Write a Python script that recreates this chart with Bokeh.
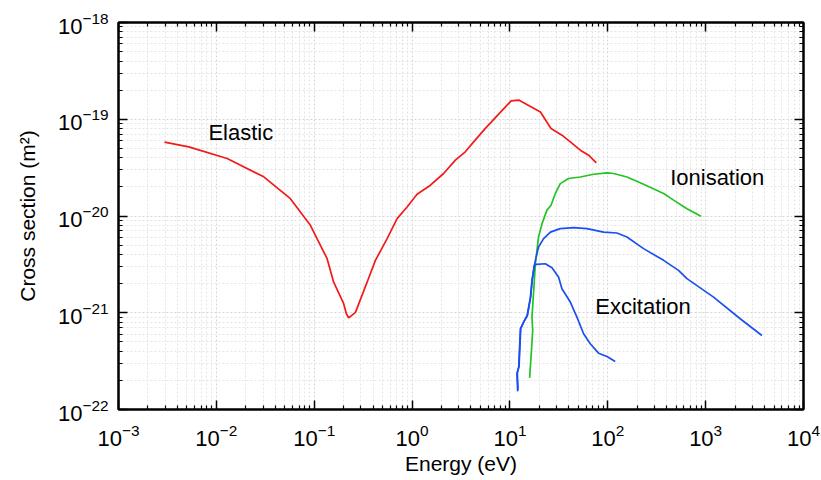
from bokeh.plotting import figure
from bokeh.models import LogAxis, FixedTicker, ColumnDataSource
from bokeh.core.properties import value
from bokeh.embed import file_html
from bokeh.resources import INLINE

# ---- data (energy in eV, cross section in m^2) ----
elastic_e = [2.95e-3, 5.22e-3, 1.29e-2, 3.05e-2, 5.71e-2, 9.14e-2, 0.1355, 0.158, 0.200, 0.213,
             0.225, 0.264, 0.347, 0.422, 0.556, 0.703, 0.889, 1.125, 1.54, 2.10, 2.77, 3.50,
             4.26, 5.61, 7.67, 10.3, 12.3, 20.5, 26.3, 34.0, 41.4, 52.4, 63.7, 76.4]
elastic_s = [5.80e-20, 5.18e-20, 3.93e-20, 2.54e-20, 1.51e-20, 8.02e-21, 3.62e-21, 2.07e-21, 1.24e-21, 9.77e-22,
             8.87e-22, 1.01e-21, 2.07e-21, 3.48e-21, 5.83e-21, 9.40e-21, 1.24e-20, 1.68e-20, 2.08e-20, 2.75e-20, 3.78e-20, 4.61e-20,
             5.83e-20, 8.04e-20, 1.13e-19, 1.55e-19, 1.58e-19, 1.19e-19, 8.04e-20, 6.84e-20, 5.83e-20, 4.79e-20, 4.25e-20, 3.54e-20]

ion_e = [15.9, 16.6, 17.1, 16.8, 17.5, 18.2, 19.6, 21.3, 23.9, 26.3, 29.1, 32.7, 39.8, 52.4, 71.6,
         98.2, 115, 157, 232, 372, 470, 644, 895]
ion_s = [2.12e-22, 4.07e-22, 6.56e-22, 9.0e-22, 1.70e-21, 3.21e-21, 6.07e-21, 8.34e-21, 1.15e-20, 1.29e-20,
         1.71e-20, 2.16e-20, 2.44e-20, 2.53e-20, 2.70e-20, 2.79e-20, 2.75e-20, 2.53e-20, 2.13e-20, 1.71e-20,
         1.46e-20, 1.19e-20, 9.93e-21]

exc_tot_e = [12.0, 11.8, 12.3, 12.5, 12.8, 13.8, 15.0, 16.2, 16.8, 18.2, 19.6, 22.1, 25.9, 32.7, 44.8,
             61.4, 90.6, 124, 157, 232, 372, 528, 644, 1205, 2255, 3758]
exc_tot_s = [1.54e-22, 2.34e-22, 2.74e-22, 4.07e-22, 6.83e-22, 8.0e-22, 9.37e-22, 1.45e-21, 2.16e-21, 3.48e-21,
             4.78e-21, 5.83e-21, 6.82e-21, 7.41e-21, 7.59e-21, 7.41e-21, 6.82e-21, 6.67e-21, 6.07e-21, 4.60e-21,
             3.48e-21, 2.74e-21, 2.25e-21, 1.45e-21, 8.67e-22, 5.82e-22]

exc_e = [12.1, 11.9, 12.4, 12.6, 12.9, 13.9, 15.1, 16.3, 16.9, 17.7, 18.6, 23.0, 26.9, 31.4, 34.0, 41.4,
         48.4, 56.6, 66.2, 80.5, 98.2, 119]
exc_s = [1.60e-22, 2.40e-22, 2.80e-22, 4.10e-22, 6.90e-22, 8.1e-22, 9.4e-22, 1.46e-21, 2.17e-21, 3.09e-21,
         3.16e-21, 3.21e-21, 2.92e-21, 2.34e-21, 1.77e-21, 1.29e-21, 9.0e-22, 6.07e-22, 4.78e-22, 3.82e-22,
         3.53e-22, 3.13e-22]

label_text = ["Elastic", "Ionisation", "Excitation"]
label_e = [8.3e-3, 434, 74.5]
label_s = [7.35e-20, 2.52e-20, 1.16e-21]

x_decades = [1e-3, 1e-2, 1e-1, 1e0, 1e1, 1e2, 1e3, 1e4]
y_decades = [1e-22, 1e-21, 1e-20, 1e-19, 1e-18]

FONT = "Liberation Sans"
RED = "#f21a1a"
GREEN = "#22c322"
BLUE = "#1b4ff0"

x_minor = [d * k for d in x_decades[:-1] for k in range(2, 10)]
y_minor = [d * k for d in y_decades[:-1] for k in range(2, 10)]

p = figure(width=821, height=480, x_axis_type="log", y_axis_type="log",
           x_range=(1e-3, 1e4), y_range=(1e-22, 1e-18),
           output_backend="svg", toolbar_location=None,
           min_border_left=118, min_border_right=18, min_border_top=22, min_border_bottom=71)
p.background_fill_color = "white"
p.border_fill_color = "white"
p.outline_line_color = "black"
p.outline_line_width = 2

def style_axis(ax, show_labels):
    ax.axis_line_color = "black"
    ax.axis_line_width = 2
    ax.major_tick_in = 9
    ax.major_tick_out = 0
    ax.minor_tick_in = 4
    ax.minor_tick_out = 0
    ax.major_tick_line_width = 1.5
    ax.minor_tick_line_width = 1.2
    ax.major_tick_line_color = "black"
    ax.minor_tick_line_color = "black"
    if show_labels:
        ax.major_label_text_font = FONT
        ax.major_label_text_font_size = "22px"
        ax.major_label_text_color = "black"
        ax.axis_label_text_font = FONT
        ax.axis_label_text_font_size = "21px"
        ax.axis_label_text_font_style = "normal"
        ax.axis_label_text_color = "black"
    else:
        ax.major_label_text_font_size = "1px"
        ax.major_label_text_alpha = 0
        ax.major_label_standoff = 0

p.xaxis.ticker = FixedTicker(ticks=x_decades, minor_ticks=x_minor)
p.yaxis.ticker = FixedTicker(ticks=y_decades, minor_ticks=y_minor)
p.xaxis.axis_label = "Energy (eV)"
p.yaxis.axis_label = "Cross section (m²)"
style_axis(p.xaxis[0], True)
style_axis(p.yaxis[0], True)
p.xaxis.major_label_standoff = 14
p.yaxis.major_label_standoff = 10
p.xaxis.axis_label_standoff = 3
p.yaxis.axis_label_standoff = 16

top = LogAxis(ticker=FixedTicker(ticks=x_decades, minor_ticks=x_minor))
right = LogAxis(ticker=FixedTicker(ticks=y_decades, minor_ticks=y_minor))
style_axis(top, False)
style_axis(right, False)
p.add_layout(top, "above")
p.add_layout(right, "right")

for g in (p.xgrid[0], p.ygrid[0]):
    g.grid_line_color = "#d6d6d6"
    g.grid_line_dash = "2 2"
    g.grid_line_width = 1
    g.minor_grid_line_color = "#e4e4e4"
    g.minor_grid_line_dash = "2 2"
    g.minor_grid_line_width = 1

p.line(elastic_e, elastic_s, line_color=RED, line_width=1.7)
p.line(ion_e, ion_s, line_color=GREEN, line_width=1.7)
p.line(exc_tot_e, exc_tot_s, line_color=BLUE, line_width=1.7)
p.line(exc_e, exc_s, line_color=BLUE, line_width=1.7)

src = ColumnDataSource(dict(x=label_e, y=label_s, t=label_text))
p.text(x="x", y="y", text="t", source=src, text_font=value(FONT), text_font_size="22px",
       text_color="black", text_align="left", text_baseline="middle")

open("out.html", "w").write(file_html(p, INLINE))
